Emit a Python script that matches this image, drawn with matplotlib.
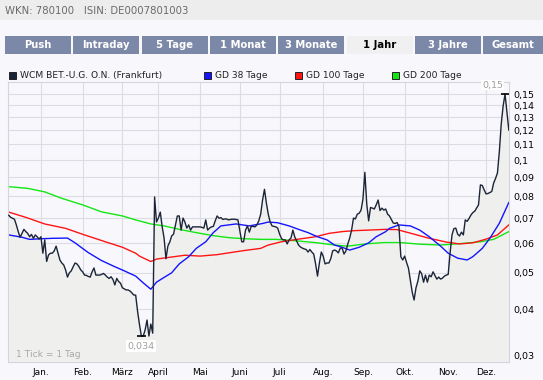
import numpy as np
import pandas as pd
import matplotlib
matplotlib.use('Agg')
import matplotlib.pyplot as plt
from matplotlib.patches import Rectangle
from matplotlib.ticker import NullLocator

plt.rcParams['font.family'] = ['DejaVu Sans']

# Handelstage Frankfurt, Dez. 2007 - Dez. 2008
holidays = ['2007-12-24', '2007-12-25', '2007-12-26', '2007-12-31',
            '2008-01-01', '2008-03-21', '2008-03-24', '2008-05-01']
days = pd.bdate_range('2007-12-03', '2008-12-17', freq='C', holidays=holidays)

# Schlusskurse (ein Wert je Handelstag)
close = [
    # Dez. 2007
    0.0712, 0.0703, 0.0699, 0.0695, 0.0671, 0.0644, 0.0622, 0.0637, 0.0653, 0.0644,
    0.0637, 0.0624, 0.0633, 0.0618, 0.0631, 0.0624, 0.0615,
    # Jan.
    0.0624, 0.0564, 0.0612, 0.0536, 0.0558, 0.0564, 0.0564, 0.0572, 0.0589, 0.0564,
    0.0541, 0.0531, 0.0525, 0.0509, 0.0487, 0.0500, 0.0506, 0.0519, 0.0531, 0.0528,
    0.0520, 0.0509,
    # Feb.
    0.0503, 0.0493, 0.0492, 0.0489, 0.0487, 0.0503, 0.0515, 0.0493, 0.0493, 0.0493,
    0.0495, 0.0498, 0.0493, 0.0487, 0.0483, 0.0488, 0.0480, 0.0464, 0.0483, 0.0474,
    0.0469,
    # Maerz
    0.0456, 0.0453, 0.0450, 0.0450, 0.0447, 0.0442, 0.0436, 0.0436, 0.0395, 0.0364,
    0.0339, 0.0339, 0.0352, 0.0374, 0.0339, 0.0365, 0.0345, 0.0797, 0.0683,
    # April
    0.0700, 0.0726, 0.0663, 0.0619, 0.0545, 0.0589, 0.0604, 0.0627, 0.0634, 0.0671,
    0.0709, 0.0709, 0.0650, 0.0700, 0.0683, 0.0658, 0.0671, 0.0650, 0.0663, 0.0663,
    0.0663, 0.0663,
    # Mai
    0.0663, 0.0661, 0.0658, 0.0692, 0.0650, 0.0658, 0.0663, 0.0665, 0.0688, 0.0709,
    0.0699, 0.0702, 0.0694, 0.0696, 0.0696, 0.0692, 0.0694, 0.0695, 0.0695, 0.0694,
    0.0692,
    # Juni
    0.0646, 0.0605, 0.0605, 0.0650, 0.0667, 0.0642, 0.0665, 0.0665, 0.0663, 0.0671,
    0.0688, 0.0717, 0.0782, 0.0835, 0.0768, 0.0717, 0.0683, 0.0667, 0.0665, 0.0663,
    0.0658,
    # Juli
    0.0634, 0.0617, 0.0612, 0.0612, 0.0597, 0.0612, 0.0619, 0.0650, 0.0623, 0.0608,
    0.0593, 0.0586, 0.0582, 0.0579, 0.0577, 0.0568, 0.0577, 0.0568, 0.0561, 0.0528,
    0.0490, 0.0531, 0.0568,
    # Aug.
    0.0554, 0.0528, 0.0531, 0.0531, 0.0545, 0.0572, 0.0575, 0.0572, 0.0565, 0.0582,
    0.0582, 0.0561, 0.0572, 0.0597, 0.0619, 0.0650, 0.0700, 0.0696, 0.0717, 0.0721,
    0.0735,
    # Sep.
    0.0787, 0.0927, 0.0763, 0.0688, 0.0747, 0.0744, 0.0740, 0.0759, 0.0782, 0.0733,
    0.0744, 0.0735, 0.0740, 0.0717, 0.0709, 0.0694, 0.0679, 0.0677, 0.0681, 0.0665,
    0.0552, 0.0541,
    # Okt.
    0.0554, 0.0533, 0.0515, 0.0478, 0.0444, 0.0423, 0.0456, 0.0475, 0.0506, 0.0497,
    0.0472, 0.0493, 0.0472, 0.0493, 0.0488, 0.0503, 0.0492, 0.0481, 0.0487, 0.0481,
    0.0484, 0.0490, 0.0493,
    # Nov.
    0.0495, 0.0565, 0.0631, 0.0656, 0.0658, 0.0634, 0.0627, 0.0642, 0.0631, 0.0692,
    0.0686, 0.0698, 0.0713, 0.0724, 0.0730, 0.0744, 0.0759, 0.0858, 0.0855, 0.0832,
    # Dez.
    0.0812, 0.0814, 0.0819, 0.0824, 0.0868, 0.0893, 0.0923, 0.1052, 0.1248, 0.1393,
    0.1500, 0.1343, 0.1202,
]

# gleitende Durchschnitte (Handelstag-Nr., Wert)
gd38_day = [0, 7, 11, 16, 23, 31, 35, 42, 49, 56, 61, 67, 71, 75, 78, 82, 86, 90, 95,
            99, 104, 108, 112, 114, 120, 127, 134, 137, 142, 148, 153, 158, 163, 168,
            172, 176, 180, 185, 190, 194, 199, 201, 206, 212, 217, 222, 228, 232, 237,
            242, 245, 250, 254, 259, 264]
gd38 = [0.0631, 0.0622, 0.0614, 0.0616, 0.0618, 0.0619, 0.0601, 0.0566, 0.0539, 0.0519,
        0.0506, 0.0490, 0.0470, 0.0452, 0.0472, 0.0486, 0.0500, 0.0528, 0.0552, 0.0581,
        0.0605, 0.0640, 0.0667, 0.0669, 0.0675, 0.0667, 0.0677, 0.0683, 0.0680, 0.0667,
        0.0653, 0.0640, 0.0624, 0.0612, 0.0593, 0.0585, 0.0575, 0.0585, 0.0601, 0.0624,
        0.0644, 0.0657, 0.0671, 0.0667, 0.0650, 0.0624, 0.0589, 0.0564, 0.0547, 0.0541,
        0.0552, 0.0581, 0.0618, 0.0678, 0.0770]

gd100_day = [0, 9, 19, 30, 40, 51, 60, 67, 69, 75, 78, 85, 93, 101, 110, 117, 124, 133,
             137, 144, 153, 162, 169, 176, 183, 190, 199, 205, 214, 222, 231, 238, 245,
             252, 258, 264]
gd100 = [0.0726, 0.0703, 0.0675, 0.0657, 0.0631, 0.0605, 0.0585, 0.0564, 0.0554, 0.0536,
         0.0544, 0.0550, 0.0557, 0.0554, 0.0559, 0.0566, 0.0573, 0.0581, 0.0593, 0.0605,
         0.0615, 0.0624, 0.0637, 0.0644, 0.0648, 0.0650, 0.0653, 0.0652, 0.0634, 0.0618,
         0.0604, 0.0597, 0.0601, 0.0615, 0.0631, 0.0671]

gd200_day = [0, 10, 19, 28, 39, 49, 60, 67, 75, 82, 90, 99, 108, 117, 126, 133, 141,
             151, 162, 172, 179, 188, 198, 207, 217, 228, 238, 249, 256, 264]
gd200 = [0.0849, 0.0840, 0.0822, 0.0790, 0.0759, 0.0727, 0.0709, 0.0692, 0.0675, 0.0667,
         0.0653, 0.0640, 0.0628, 0.0620, 0.0616, 0.0614, 0.0614, 0.0609, 0.0602, 0.0593,
         0.0589, 0.0597, 0.0602, 0.0602, 0.0596, 0.0593, 0.0598, 0.0605, 0.0614, 0.0644]

month_names = ['Jan.', 'Feb.', 'März', 'April', 'Mai', 'Juni', 'Juli', 'Aug.',
               'Sep.', 'Okt.', 'Nov.', 'Dez.']
y_ticks = [0.03, 0.04, 0.05, 0.06, 0.07, 0.08, 0.09, 0.1, 0.11, 0.12, 0.13, 0.14, 0.15]

tabs = ['Push', 'Intraday', '5 Tage', '1 Monat', '3 Monate', '1 Jahr', '3 Jahre', 'Gesamt']
active_tab = '1 Jahr'
legend_names = ['WCM BET.-U.G. O.N. (Frankfurt)', 'GD 38 Tage', 'GD 100 Tage', 'GD 200 Tage']
legend_colors = ['#1c2438', '#1414ff', '#ff1414', '#14e614']
legend_x = [9, 204, 295, 392]

assert len(close) == len(days)

page_bg = '#f8f8fc'
fig = plt.figure(figsize=(5.43, 3.8), dpi=100, facecolor=page_bg)

# Rahmen: Kopfzeile, Reiter, Legende (Pixelkoordinaten)
bg = fig.add_axes([0, 0, 1, 1], zorder=0)
bg.set_xlim(0, 543)
bg.set_ylim(380, 0)
bg.axis('off')
bg.add_patch(Rectangle((0, 0), 543, 20, color='#ededee', lw=0))
bg.text(5, 10.5, 'WKN: 780100   ISIN: DE0007801003', va='center', ha='left',
        color='#6a6a6a', fontsize=7.3)

for k, name in enumerate(tabs):
    x0 = 5 + 68.3 * k
    w = 66 if k < len(tabs) - 1 else 543 - x0
    active = name == active_tab
    bg.add_patch(Rectangle((x0, 36), w, 18, lw=0,
                           color='#f0f0f0' if active else '#7c88a8'))
    bg.text(x0 + w / 2, 45.5, name, ha='center', va='center', fontsize=7.2,
            fontweight='bold', color='black' if active else 'white')

for name, col, x in zip(legend_names, legend_colors, legend_x):
    bg.add_patch(Rectangle((x, 72), 7, 7, facecolor=col, edgecolor='#222222', lw=0.7))
    bg.text(x + 11, 75.5, name, ha='left', va='center', fontsize=6.6, color='#222222')

# Kursdiagramm
ax = fig.add_axes([8 / 543, 18 / 380, 501 / 543, 280 / 380], zorder=1)
ax.set_facecolor(page_bg)
idx = np.arange(len(close))

ax.set_yscale('log')
ax.set_ylim(0.0289, 0.1615)
ax.set_xlim(-0.4, 264.1)

ax.fill_between(idx, close, 0.02, color='#eff0ee', lw=0, zorder=1)
ax.plot(gd200_day, gd200, color=legend_colors[3], lw=1.0, zorder=2)
ax.plot(gd100_day, gd100, color=legend_colors[2], lw=1.0, zorder=2)
ax.plot(gd38_day, gd38, color=legend_colors[1], lw=1.0, zorder=2)
ax.plot(idx, close, color='#1c2438', lw=1.0, zorder=3)

# Monatsanfaenge als x-Ticks
pos = pd.Series(idx, index=days)
firsts = pos.groupby([days.year, days.month]).first()
month_pos = [firsts[(2008, m)] for m in range(1, 13)]
ax.set_xticks(month_pos)
ax.set_xticklabels(month_names, fontsize=6.5)

ax.yaxis.tick_right()
ax.set_yticks(y_ticks)
ax.set_yticklabels([('%g' % v).replace('.', ',') for v in y_ticks], fontsize=6.8)
ax.yaxis.set_minor_locator(NullLocator())
ax.tick_params(axis='both', length=0)
ax.tick_params(axis='x', pad=4)
ax.tick_params(axis='y', pad=3)

ax.grid(True, color='#dcdce4', lw=0.8)
ax.set_axisbelow(True)
for sp in ax.spines.values():
    sp.set_color('#d4d4dc')
    sp.set_linewidth(0.8)

# Hoch / Tief
imax = int(np.argmax(close))
imin = int(np.argmin(close))
ax.hlines(close[imax], imax - 2.3, imax + 2.3, color='black', lw=1.2, zorder=4, clip_on=False)
ax.hlines(close[imin], imin - 2.4, imin + 2.4, color='black', lw=1.2, zorder=4)
ax.annotate(('%.2f' % close[imax]).replace('.', ','), (imax, close[imax]),
            xytext=(-2, 9), textcoords='offset pixels', ha='right', va='center',
            fontsize=6.8, color='#a0a0a0', annotation_clip=False,
            bbox=dict(boxstyle='square,pad=0.1', fc='white', ec='none'))
ax.annotate(('%.3f' % close[imin]).replace('.', ','), (imin, close[imin]),
            xytext=(0, -10), textcoords='offset pixels', ha='center', va='center',
            fontsize=6.8, color='#a0a0a0',
            bbox=dict(boxstyle='square,pad=0.15', fc='white', ec='none'))

ax.text(0.016, 0.027, '1 Tick = 1 Tag', transform=ax.transAxes, ha='left', va='center',
        fontsize=6.6, color='#a8a8a8')

fig.savefig('out.png', dpi=100, facecolor=page_bg)
